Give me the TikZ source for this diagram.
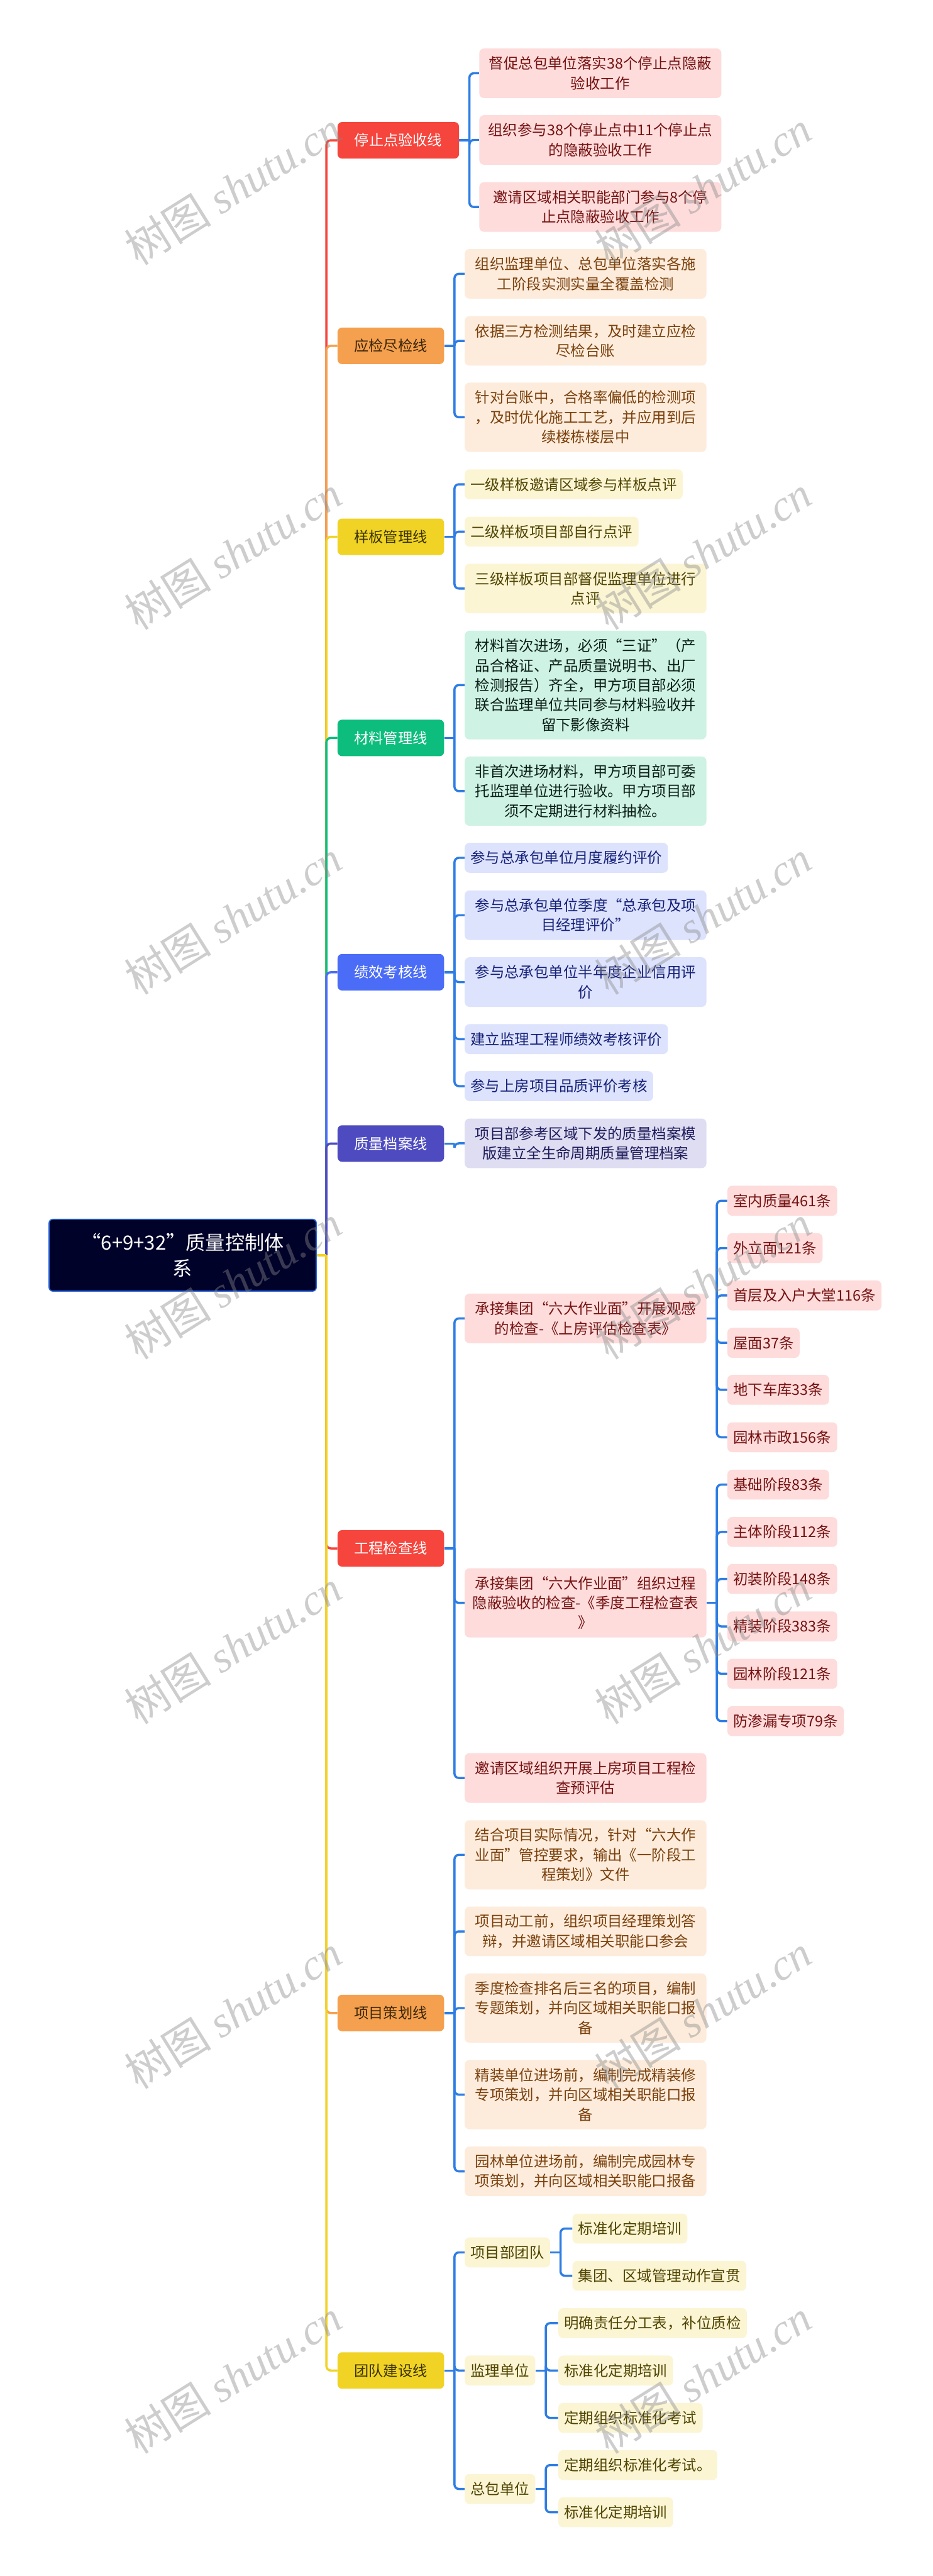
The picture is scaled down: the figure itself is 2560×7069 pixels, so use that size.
\documentclass[tikz,border=0pt]{standalone}
\usepackage{fontspec}
\setmainfont{Noto Sans CJK SC}
\newfontfamily\wmlatin{Liberation Serif}
\usetikzlibrary{backgrounds}
\definecolor{cRed}{HTML}{F5453D}
\definecolor{cRedL}{HTML}{FDDCDB}
\definecolor{cRedT}{HTML}{751212}
\definecolor{cOra}{HTML}{F5A04E}
\definecolor{cOraL}{HTML}{FDECDC}
\definecolor{cOraT}{HTML}{7A400C}
\definecolor{cOraB}{HTML}{3A2608}
\definecolor{cYel}{HTML}{F1D326}
\definecolor{cYelL}{HTML}{FBF5D4}
\definecolor{cYelT}{HTML}{4F4300}
\definecolor{cYelB}{HTML}{3A3300}
\definecolor{cGrn}{HTML}{0DBD7E}
\definecolor{cGrnL}{HTML}{CEF2E3}
\definecolor{cGrnT}{HTML}{0B1F17}
\definecolor{cBlu}{HTML}{4A6CF7}
\definecolor{cBluL}{HTML}{DDE3FD}
\definecolor{cBluT}{HTML}{152078}
\definecolor{cPur}{HTML}{4E4BC0}
\definecolor{cPurL}{HTML}{DEDDF2}
\definecolor{cPurT}{HTML}{1E1B5A}
\definecolor{cRoot}{HTML}{01022A}
\definecolor{cRootB}{HTML}{2C66DD}
\definecolor{cConn}{HTML}{2E7DE3}
\definecolor{cWm}{HTML}{888888}
\newcommand\mmleaffont{\fontsize{11.5pt}{15.4pt}\selectfont}
\newcommand\mmbrfont{\fontsize{11.4pt}{14pt}\selectfont}
\newcommand\mmrootfont{\fontsize{15.3pt}{20.2pt}\selectfont}
\newcommand\mmwmfont{\fontsize{34pt}{36pt}\selectfont}
\tikzset{
  leaf/.style={rounded corners=0.13cm, inner xsep=0.16cm, inner ysep=0pt, align=center, font=\mmleaffont, anchor=west, minimum height=0.82cm},
  l2/.style={minimum height=1.36cm},
  l3/.style={minimum height=1.90cm},
  l5/.style={minimum height=2.98cm},
  wd/.style={minimum width=6.63cm},
  rl/.style={leaf, fill=cRedL, text=cRedT},
  ol/.style={leaf, fill=cOraL, text=cOraT},
  yl/.style={leaf, fill=cYelL, text=cYelT},
  gl/.style={leaf, fill=cGrnL, text=cGrnT},
  bl/.style={leaf, fill=cBluL, text=cBluT},
  pl/.style={leaf, fill=cPurL, text=cPurT},
  br/.style={rounded corners=0.12cm, minimum width=2.92cm, minimum height=1cm, inner sep=0pt, font=\mmbrfont, anchor=west},
  rootbox/.style={rounded corners=0.1cm, minimum width=7.33cm, minimum height=1.97cm, inner sep=0pt, align=center, font=\mmrootfont, fill=cRoot, draw=cRootB, line width=0.03cm, text=white},
  conn/.style={line width=0.06cm, rounded corners=0.12cm, draw=cConn},
  wm/.style={text=cWm, opacity=0.42, font=\mmwmfont, rotate=32, inner sep=0pt},
}
\newcommand\mmfan[2]{%
  \draw[conn] (#1.east) -- ++(28,0) coordinate (#1j);
  \foreach \c in {#2} {\draw[conn] (#1j) |- (\c.west);}
}
\begin{document}
\begin{tikzpicture}[x=0.01cm,y=-0.01cm]
\useasboundingbox (0,0) rectangle (2560,7069);
% root
\node[rootbox] (root) at (501.5,3444.5) {“6+9+32”质量控制体\\系};
% branches
\node[br, fill=cRed, text=white, minimum width=3.33cm] (b1) at (926,385) {停止点验收线};
\node[br, fill=cOra, text=cOraB] (b2) at (926,949) {应检尽检线};
\node[br, fill=cYel, text=cYelB] (b3) at (926,1473) {样板管理线};
\node[br, fill=cGrn, text=white] (b4) at (926,2025) {材料管理线};
\node[br, fill=cBlu, text=white] (b5) at (926,2668) {绩效考核线};
\node[br, fill=cPur, text=white] (b6) at (926,3138) {质量档案线};
\node[br, fill=cRed, text=white] (b7) at (926,4249) {工程检查线};
\node[br, fill=cOra, text=cOraB] (b8) at (926,5524) {项目策划线};
\node[br, fill=cYel, text=cYelB] (b9) at (926,6505) {团队建设线};
% b1 leaves
\node[rl, l2, minimum width=6.64cm] (b1a) at (1315,201) {督促总包单位落实38个停止点隐蔽\\验收工作};
\node[rl, l2, minimum width=6.64cm] (b1b) at (1315,384) {组织参与38个停止点中11个停止点\\的隐蔽验收工作};
\node[rl, l2, minimum width=6.64cm] (b1c) at (1315,568) {邀请区域相关职能部门参与8个停\\止点隐蔽验收工作};
% b2 leaves
\node[ol, l2, wd] (b2a) at (1275,751.5) {组织监理单位、总包单位落实各施\\工阶段实测实量全覆盖检测};
\node[ol, l2, wd] (b2b) at (1275,935.5) {依据三方检测结果，及时建立应检\\尽检台账};
\node[ol, l3, wd] (b2c) at (1275,1145) {针对台账中，合格率偏低的检测项\\，及时优化施工工艺，并应用到后\\续楼栋楼层中};
% b3 leaves
\node[yl] (b3a) at (1275,1329) {一级样板邀请区域参与样板点评};
\node[yl] (b3b) at (1275,1459) {二级样板项目部自行点评};
\node[yl, l2, wd] (b3c) at (1275,1615) {三级样板项目部督促监理单位进行\\点评};
% b4 leaves
\node[gl, l5, wd] (b4a) at (1275,1880) {材料首次进场，必须“三证”（产\\品合格证、产品质量说明书、出厂\\检测报告）齐全，甲方项目部必须\\联合监理单位共同参与材料验收并\\留下影像资料};
\node[gl, l3, wd] (b4b) at (1275,2171) {非首次进场材料，甲方项目部可委\\托监理单位进行验收。甲方项目部\\须不定期进行材料抽检。};
% b5 leaves
\node[bl] (b5a) at (1275,2354) {参与总承包单位月度履约评价};
\node[bl, l2, wd] (b5b) at (1275,2511.5) {参与总承包单位季度“总承包及项\\目经理评价”};
\node[bl, l2, wd] (b5c) at (1275,2695) {参与总承包单位半年度企业信用评\\价};
\node[bl] (b5d) at (1275,2851.5) {建立监理工程师绩效考核评价};
\node[bl] (b5e) at (1275,2980.5) {参与上房项目品质评价考核};
% b6 leaf
\node[pl, l2, wd] (b6a) at (1275,3137.5) {项目部参考区域下发的质量档案模\\版建立全生命周期质量管理档案};
% b7 subs
\node[rl, l2, wd] (b7a) at (1275,3618) {承接集团“六大作业面”开展观感\\的检查-《上房评估检查表》};
\node[rl, l3, wd] (b7b) at (1275,4398.5) {承接集团“六大作业面”组织过程\\隐蔽验收的检查-《季度工程检查表\\》};
\node[rl, l2, wd] (b7c) at (1275,4879) {邀请区域组织开展上房项目工程检\\查预评估};
\node[rl] (b7a1) at (1996,3295) {室内质量461条};
\node[rl] (b7a2) at (1996,3425) {外立面121条};
\node[rl] (b7a3) at (1996,3555) {首层及入户大堂116条};
\node[rl] (b7a4) at (1996,3685) {屋面37条};
\node[rl] (b7a5) at (1996,3814) {地下车库33条};
\node[rl] (b7a6) at (1996,3944) {园林市政156条};
\node[rl] (b7b1) at (1996,4074) {基础阶段83条};
\node[rl] (b7b2) at (1996,4204) {主体阶段112条};
\node[rl] (b7b3) at (1996,4333) {初装阶段148条};
\node[rl] (b7b4) at (1996,4463) {精装阶段383条};
\node[rl] (b7b5) at (1996,4593) {园林阶段121条};
\node[rl] (b7b6) at (1996,4723) {防渗漏专项79条};
% b8 leaves
\node[ol, l3, wd] (b8a) at (1275,5090) {结合项目实际情况，针对“六大作\\业面”管控要求，输出《一阶段工\\程策划》文件};
\node[ol, l2, wd] (b8b) at (1275,5300) {项目动工前，组织项目经理策划答\\辩，并邀请区域相关职能口参会};
\node[ol, l3, wd] (b8c) at (1275,5510.5) {季度检查排名后三名的项目，编制\\专题策划，并向区域相关职能口报\\备};
\node[ol, l3, wd] (b8d) at (1275,5748) {精装单位进场前，编制完成精装修\\专项策划，并向区域相关职能口报\\备};
\node[ol, l2, wd] (b8e) at (1275,5958.5) {园林单位进场前，编制完成园林专\\项策划，并向区域相关职能口报备};
% b9 team
\node[yl] (t1) at (1275,6181) {项目部团队};
\node[yl] (t2) at (1275,6505) {监理单位};
\node[yl] (t3) at (1275,6830) {总包单位};
\node[yl] (t1a) at (1571,6115.5) {标准化定期培训};
\node[yl] (t1b) at (1571,6245) {集团、区域管理动作宣贯};
\node[yl] (t2a) at (1532,6375) {明确责任分工表，补位质检};
\node[yl] (t2b) at (1532,6505) {标准化定期培训};
\node[yl] (t2c) at (1532,6635) {定期组织标准化考试};
\node[yl] (t3a) at (1532,6764.5) {定期组织标准化考试。};
\node[yl] (t3b) at (1532,6894) {标准化定期培训};
% connectors
\begin{scope}[on background layer]
\fill[white] (0,0) rectangle (2560,7069);
\coordinate (rj) at (896,3444.5);
\foreach \b/\c in {b1/cRed,b2/cOra,b3/cYel,b4/cGrn,b5/cBlu,b6/cPur,b7/cRed,b8/cOra,b9/cYel}
  {\draw[conn, draw=\c] (rj) |- (\b.west);}
\draw[conn, draw=cYel] (root.east) -- (rj);
\mmfan{b1}{b1a,b1b,b1c}
\mmfan{b2}{b2a,b2b,b2c}
\mmfan{b3}{b3a,b3b,b3c}
\mmfan{b4}{b4a,b4b}
\mmfan{b5}{b5a,b5b,b5c,b5d,b5e}
\mmfan{b6}{b6a}
\mmfan{b7}{b7a,b7b,b7c}
\mmfan{b7a}{b7a1,b7a2,b7a3,b7a4,b7a5,b7a6}
\mmfan{b7b}{b7b1,b7b2,b7b3,b7b4,b7b5,b7b6}
\mmfan{b8}{b8a,b8b,b8c,b8d,b8e}
\mmfan{b9}{t1,t2,t3}
\mmfan{t1}{t1a,t1b}
\mmfan{t2}{t2a,t2b,t2c}
\mmfan{t3}{t3a,t3b}
\end{scope}
% watermarks
\foreach \i/\yy in {1/516,2/1517,3/2518,4/3519,5/4520,6/5521,7/6522} {
  \node[wm] (wmL\i) at (640,\yy) {树图 {\wmlatin\itshape shutu.cn}};
  \node[wm] (wmR\i) at (1930,\yy) {树图 {\wmlatin\itshape shutu.cn}};
}
\end{tikzpicture}
\end{document}
